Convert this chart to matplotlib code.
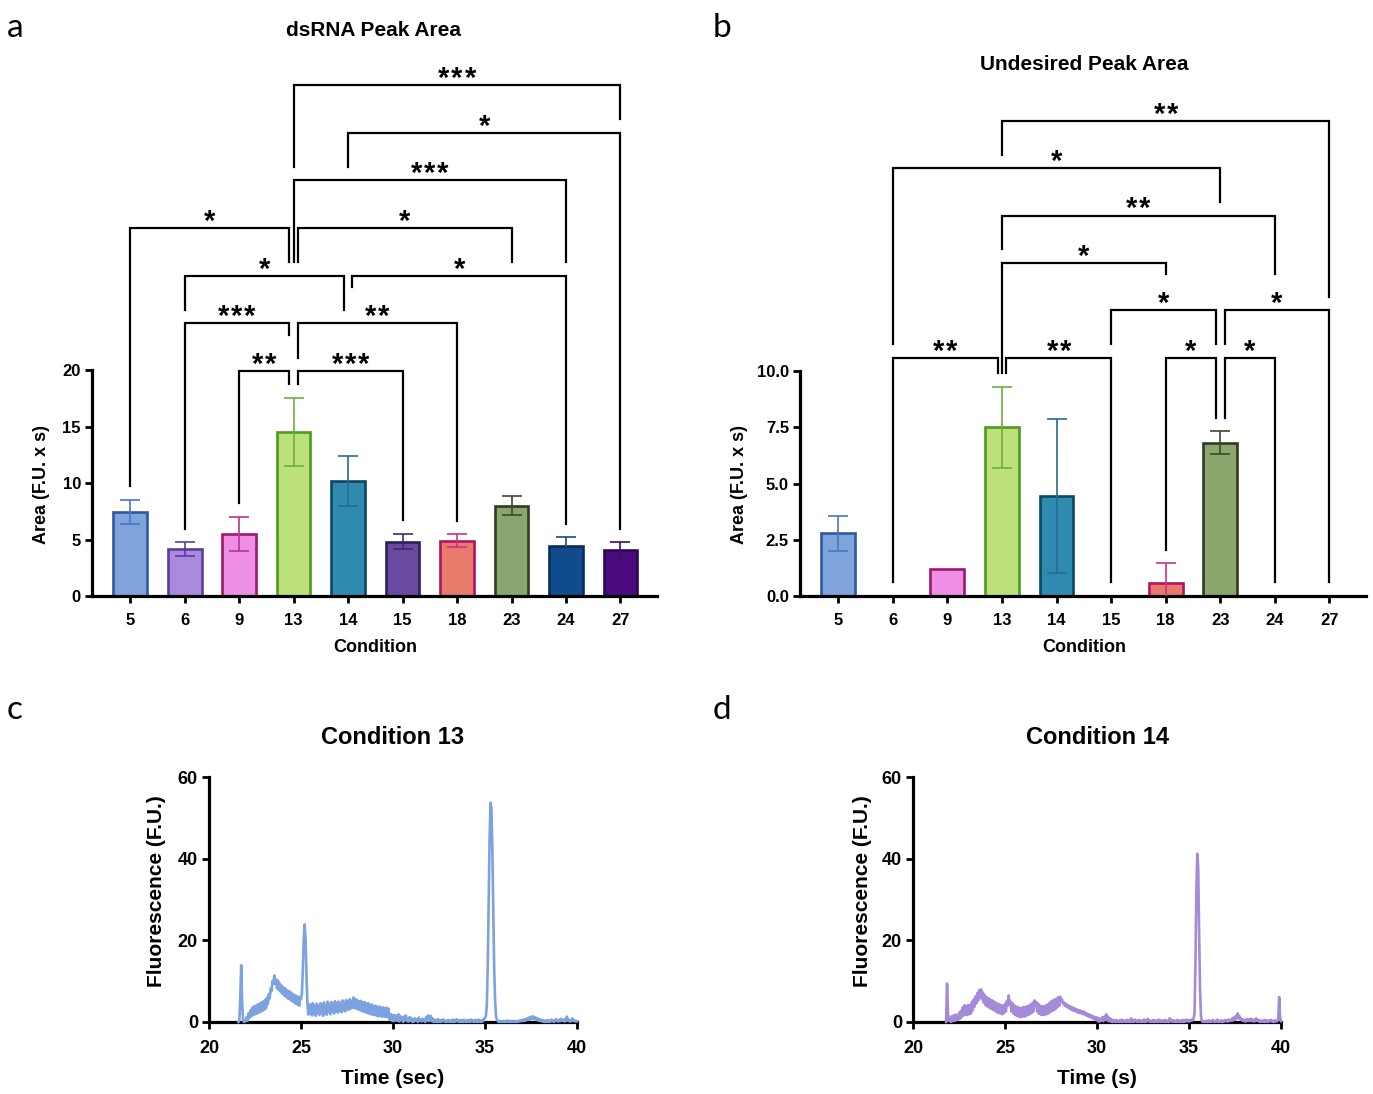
import numpy as np
import matplotlib
matplotlib.use("Agg")
import matplotlib.pyplot as plt

plt.rcParams['font.family'] = ['Liberation Sans', 'DejaVu Sans']
plt.rcParams['font.weight'] = 'bold'

W, H = 1373, 1094

conditions = ['5', '6', '9', '13', '14', '15', '18', '23', '24', '27']
fill_colors = ['#7FA3DB', '#A98ADB', '#EE8FE6', '#BCE07C', '#2E8AAE',
               '#6A4A9E', '#E87A6C', '#8AA66C', '#0F4C8C', '#4B0B7E']
edge_colors = ['#2D5AA0', '#5C3D9C', '#A0166E', '#4E9A22', '#0E4664',
               '#2E1F5E', '#B2155C', '#2F3B24', '#0A2D58', '#2B0A4E']
err_colors = ['#4A76C4', '#5C3D9C', '#B8329A', '#6CB03C', '#2A6A90',
              '#3E2A78', '#D0308A', '#3A4A2C', '#1A4A80', '#3A1070']

# panel a: dsRNA peak area (mean, SD)
ds_mean = [7.45, 4.15, 5.5, 14.55, 10.2, 4.8, 4.9, 8.0, 4.45, 4.05]
ds_sd = [1.05, 0.6, 1.5, 3.0, 2.2, 0.68, 0.55, 0.83, 0.75, 0.7]
# panel b: undesired peak area
und_mean = [2.78, 0, 1.22, 7.5, 4.45, 0, 0.6, 6.82, 0, 0]
und_sd = [0.76, 0, 0, 1.8, 3.42, 0, 0.85, 0.5, 0, 0]

# (from, to, level, stars)
ds_brackets = [
    ('9', '13', 0, '**'), ('13', '15', 0, '***'),
    ('6', '13', 1, '***'), ('13', '18', 1, '**'),
    ('6', '14', 2, '*'), ('14', '24', 2, '*'),
    ('5', '13', 3, '*'), ('13', '23', 3, '*'),
    ('13', '24', 4, '***'),
    ('14', '27', 5, '*'),
    ('13', '27', 6, '***'),
]
und_brackets = [
    ('6', '13', 0, '**'), ('13', '15', 0, '**'), ('18', '23', 0, '*'), ('23', '24', 0, '*'),
    ('15', '23', 1, '*'), ('23', '27', 1, '*'),
    ('13', '18', 2, '*'),
    ('13', '24', 3, '**'),
    ('6', '23', 4, '*'),
    ('13', '27', 5, '**'),
]

# electropherograms, sampled every 0.05 s
c_start = 21.6
c_trace = [
    0, 0.3, 6, 13.9, 5, 0.5, 0, 0.3,
    0.2, 1.2, 0.3, 2.1, 1.0, 2.9, 1.4, 3.5, 1.7, 3.8, 1.9, 4.0, 2.0, 4.3, 2.3, 4.5, 2.5, 4.8, 2.7, 5.0,
    3.0, 5.4, 3.4, 5.9, 4.4, 6.8, 5.8, 8.2, 7.6, 10.0, 9.4, 11.4, 9.3, 10.4, 8.2, 10.1, 7.9, 9.4, 7.3, 8.9,
    6.9, 8.5, 6.4, 8.2, 6.1, 7.7, 5.7, 7.6, 5.5, 7.2, 5.1, 6.9, 4.9, 6.6, 4.5, 6.4, 4.3, 6.2, 4.0, 6.0,
    5.6, 7.0, 13.0, 20.5, 23.9, 20.0, 11.0, 4.5, 1.8, 4.2, 2.0, 4.4, 1.6, 4.6, 2.2, 3.9, 1.5, 4.5, 2.1, 4.0,
    1.7, 4.6, 2.3, 4.3, 1.5, 4.8, 2.0, 3.9, 1.8, 5.0, 2.4, 4.4, 1.9, 4.9, 2.5, 4.5, 2.1, 5.1, 2.6, 4.6,
    2.3, 5.0, 2.8, 4.7, 2.4, 5.3, 2.9, 4.8, 2.6, 5.4, 3.1, 5.0, 3.0, 5.6, 3.3, 5.2, 3.5, 6.0, 3.5, 5.6,
    3.3, 5.4, 3.1, 5.1, 2.9, 5.2, 2.7, 4.8, 2.5, 4.9, 2.4, 4.5, 2.2, 4.6, 2.1, 4.2, 1.9, 4.3, 1.8, 3.9,
    1.7, 4.0, 1.6, 3.7, 1.4, 3.8, 1.5, 3.5, 1.3, 3.6, 1.4, 3.4, 1.2, 3.5, 1.3, 3.3, 0.6, 1.5, 1.9, 0.3,
    1.6, 0.2, 1.7, 0.4, 1.5, 0.3, 1.9, 0.1, 1.4, 0.6, 1.1, 0.0, 1.3, 0.5, 1.6, 0.2, 0.9, 0.1, 1.2, 0.3,
    1.0, 0.0, 0.7, 0.1, 0.9, 0.4, 0.6, 0.0, 1.1, 0.3, 0.5, 0.1, 0.8, 0.3, 0.6, 0.0, 1.2, 0.4, 1.6, 0.2,
    0.8, 1.5, 0.2, 0.9, 0.0, 0.6, 0.1, 0.5, 0.0, 0.7, 0.1, 0.4, 0.0, 0.5, 0.2, 0.6, 0.1, 0.3, 0.0, 0.4,
    0.1, 0.5, 0.0, 0.3, 0.1, 0.6, 0.0, 0.4, 0.1, 0.7, 0.2, 0.3, 0.0, 0.5, 0.1, 0.4, 0.0, 0.6, 0.1, 0.3,
    0.0, 0.5, 0.1, 0.4, 0.0, 0.6, 0.2, 0.3, 0.0, 0.5, 0.1, 0.4, 0.0, 0.6, 0.1, 0.3, 0.0, 0.5, 0.2, 0.8,
    1.0, 1.5, 4.0, 14.0, 30.0, 45.0, 53.7, 52.0, 42.0, 27.0, 13.0, 5.0, 1.5, 0.5, 0.2, 0.0, 0.3, 0.0, 0.2, 0.0,
    0.3, 0.0, 0.2, 0.0, 0.4, 0.1, 0.0, 0.3, 0.0, 0.2, 0.0, 0.3, 0.1, 0.0, 0.2, 0.0, 0.3, 0.1, 0.4, 0.2,
    0.5, 0.2, 0.6, 0.3, 0.7, 0.4, 0.9, 0.5, 1.1, 0.6, 1.3, 0.8, 1.4, 0.7, 1.2, 0.6, 1.0, 0.4, 0.8, 0.3,
    0.6, 0.2, 0.5, 0.1, 0.4, 0.0, 0.3, 0.1, 0.5, 0.0, 0.3, 0.1, 0.6, 0.2, 0.4, 0.0, 0.3, 0.7, 0.2, 0.5,
    0.1, 0.6, 0.2, 0.8, 0.3, 0.5, 0.1, 0.7, 0.2, 1.3, 0.4, 0.6, 0.1, 0.5, 0.2, 0.9, 0.3, 0.4, 0.1, 0.3,
    0.2,
]
d_start = 21.8
d_trace = [
    0, 9.4, 2.0, 0.3,
    0.8, 0.0, 1.4, 0.2, 1.6, 0.3, 1.8, 0.4, 1.5, 0.6, 2.2, 0.8, 2.7, 1.2, 3.6, 1.6, 4.1, 1.8, 3.9, 1.7,
    4.2, 1.9, 4.0, 2.1, 4.9, 2.9, 5.5, 3.8, 6.3, 4.6, 7.1, 5.3, 7.8, 6.0, 8.0, 5.6, 7.2, 4.7, 6.6, 4.1,
    6.1, 3.8, 5.8, 3.5, 5.5, 3.2, 5.3, 3.0, 5.0, 2.7, 4.7, 2.4, 4.5, 2.2, 4.3, 2.1, 4.1, 1.9, 4.0, 2.2,
    4.4, 2.6, 5.1, 4.0, 6.5, 4.6, 5.0, 2.6, 4.6, 2.1, 4.1, 1.7, 3.8, 1.5, 3.6, 1.3, 3.5, 1.2, 3.4, 1.4,
    3.7, 1.3, 3.6, 1.5, 3.9, 1.7, 4.0, 1.9, 4.3, 2.2, 4.7, 2.6, 5.3, 4.6, 4.9, 2.6, 4.5, 2.0, 4.0, 1.8,
    3.9, 1.7, 3.8, 1.8, 4.0, 1.9, 4.2, 2.1, 4.6, 2.4, 5.0, 2.7, 5.3, 2.9, 5.5, 3.2, 5.7, 3.6, 6.1, 4.0,
    6.2, 5.2, 5.5, 4.5, 4.8, 4.0, 4.5, 3.7, 4.2, 3.4, 3.9, 3.2, 3.7, 2.9, 3.5, 2.7, 3.3, 2.6, 3.1, 2.3,
    2.9, 2.2, 2.8, 2.1, 2.6, 1.9, 2.5, 1.8, 2.2, 1.5, 2.0, 1.3, 1.8, 1.2, 1.6, 0.9, 1.4, 0.7, 1.2, 0.5,
    1.1, 0.2, 0.9, 0.1, 0.8, 0.3, 1.2, 0.2, 1.3, 0.5, 1.9, 0.4, 1.3, 0.2, 0.9, 0.1, 0.6, 0.0, 0.5, 0.2,
    0.0, 0.5, 0.1, 0.3, 0.0, 0.4, 0.1, 0.6, 0.0, 0.3, 0.1, 0.4, 0.0, 0.5, 0.1, 0.3, 0.0, 0.9, 0.1, 0.4,
    0.0, 0.6, 0.2, 0.3, 0.0, 0.5, 0.1, 0.4, 0.0, 0.3, 0.1, 0.6, 0.0, 0.4, 0.1, 0.8, 0.2, 0.4, 0.0, 0.3,
    0.1, 0.5, 0.0, 0.4, 0.1, 0.3, 0.0, 0.6, 0.1, 0.4, 0.0, 0.3, 0.1, 0.5, 0.0, 0.4, 0.1, 0.3, 0.0, 0.9,
    0.2, 0.5, 0.0, 0.4, 0.1, 0.3, 0.0, 0.5, 0.1, 0.4, 0.0, 0.3, 0.1, 0.5, 0.0, 0.4, 0.1, 0.6, 0.2, 0.4,
    0.1, 0.5, 0.3, 0.6, 0.4, 0.8, 2.0, 14.0, 32.0, 41.2, 38.0, 22.0, 8.0, 1.5, 0.3, 0.0, 0.2, 0.0, 0.3, 0.1,
    0.0, 0.4, 0.1, 0.3, 0.0, 0.2, 0.5, 0.1, 0.0, 0.3, 0.1, 0.6, 0.0, 0.2, 0.1, 0.4, 0.0, 0.3, 0.1, 0.5,
    0.2, 0.4, 0.1, 0.6, 0.2, 0.5, 0.3, 0.9, 0.4, 1.2, 0.6, 1.5, 0.8, 2.1, 1.0, 1.4, 0.5, 0.8, 0.3, 0.6,
    0.2, 0.5, 0.1, 0.7, 0.3, 0.6, 0.2, 0.8, 0.3, 0.6, 0.1, 0.5, 0.2, 0.9, 0.3, 0.5, 0.1, 0.4, 0.0, 0.3,
    0.1, 0.4, 0.0, 0.5, 0.1, 0.3, 0.0, 0.4, 0.2, 0.5, 0.1, 0.3, 0.0, 0.4, 0.1, 0.3, 0.2, 0.6, 6.1, 1.0,
    0.2,
]


def px(x, y):
    return x / W, 1 - y / H


def style_axes(ax, tick_size, xpad):
    for s in ['top', 'right']:
        ax.spines[s].set_visible(False)
    for s in ['left', 'bottom']:
        ax.spines[s].set_linewidth(2.3)
    ax.tick_params(direction='out', length=5, width=2.0, labelsize=tick_size, pad=3)
    ax.tick_params(axis='x', pad=xpad)


def bar_panel(ax, means, sds, brackets, base, step, yspine, yticks, yticklabels, ylim_top):
    x = np.arange(len(conditions))
    ax.bar(x, means, width=0.62, color=fill_colors, edgecolor=edge_colors,
           linewidth=1.9, zorder=2)
    for i in range(len(x)):
        if sds[i] > 0:
            ax.errorbar(x[i], means[i], yerr=sds[i], fmt='none', ecolor=err_colors[i],
                        elinewidth=1.2, capsize=7.5, capthick=1.2, zorder=3)
    ax.set_xlim(-0.7, 9.67)
    ax.set_ylim(0, ylim_top)
    ax.set_xticks(x)
    ax.set_xticklabels(conditions)
    ax.set_yticks(yticks)
    ax.set_yticklabels(yticklabels)
    style_axes(ax, 12, 7)
    ax.spines['left'].set_bounds(0, yspine)

    # significance brackets; legs stop above whatever lies below them
    off = 0.08
    idx = {c: i for i, c in enumerate(conditions)}
    items = []
    for a_, b_, lev, lab in brackets:
        xl, xr = float(idx[a_]), float(idx[b_])
        for a2, b2, lev2, _ in brackets:
            if lev2 == lev and b2 == a_:
                xl += off
            if lev2 == lev and a2 == b_:
                xr -= off
        items.append((xl, xr, base + step * lev, lev, lab))
    gap = 0.285 * step
    tops = np.array(means) + np.array(sds)

    def leg_bottom(xp, lev):
        bottoms = [tops[int(round(xp))] + gap]
        for xl2, xr2, y2, lev2, lab2 in items:
            if lev2 >= lev:
                continue
            if xl2 - 1e-6 <= xp <= xr2 + 1e-6:
                bottoms.append(y2 + gap)
            half = 0.1 * len(lab2) + 0.32
            if abs(xp - (xl2 + xr2) / 2) <= half:
                bottoms.append(y2 + 0.48 * step + gap)
        return max(bottoms)

    pitch = 0.24
    for xl, xr, y, lev, lab in items:
        bl = leg_bottom(xl, lev)
        br = leg_bottom(xr, lev)
        ax.plot([xl, xl, xr, xr], [bl, y, y, br], color='black', lw=1.6,
                solid_joinstyle='miter', clip_on=False, zorder=4)
        xc = (xl + xr) / 2
        n = len(lab)
        for k in range(n):
            ax.text(xc + (k - (n - 1) / 2) * pitch, y - 0.04 * step, '*', ha='center',
                    va='baseline', fontsize=21, fontweight='bold', clip_on=False)


def trace_panel(ax, start, values, color):
    t = start + 0.05 * np.arange(len(values))
    ax.plot(t, values, color=color, lw=1.9, zorder=3, clip_on=False)
    ax.set_xlim(20, 40)
    ax.set_ylim(0, 60)
    ax.set_xticks([20, 25, 30, 35, 40])
    ax.set_yticks([0, 20, 40, 60])
    style_axes(ax, 13, 8)


fig = plt.figure(figsize=(W / 100, H / 100), dpi=100)

# a
ax_a = fig.add_axes([92 / W, 1 - 596 / H, 565 / W, 531 / H])
bar_panel(ax_a, ds_mean, ds_sd, ds_brackets, 19.9, 4.22, 20,
          [0, 5, 10, 15, 20], ['0', '5', '10', '15', '20'], 47)
# b
ax_b = fig.add_axes([800 / W, 1 - 596 / H, 566 / W, 517.5 / H])
bar_panel(ax_b, und_mean, und_sd, und_brackets, 10.58, 2.11, 10,
          [0, 2.5, 5, 7.5, 10], ['0.0', '2.5', '5.0', '7.5', '10.0'], 23)
# c, d
ax_c = fig.add_axes([209 / W, 1 - 1022 / H, 368 / W, 245 / H])
trace_panel(ax_c, c_start, c_trace, '#7CA2E0')
ax_d = fig.add_axes([913 / W, 1 - 1022 / H, 368 / W, 245 / H])
trace_panel(ax_d, d_start, d_trace, '#A58AD8')

# titles and axis labels
fig.text(*px(374, 31), 'dsRNA Peak Area', ha='center', va='center', fontsize=15)
fig.text(*px(1084, 65), 'Undesired Peak Area', ha='center', va='center', fontsize=15)
fig.text(*px(393, 737), 'Condition 13', ha='center', va='center', fontsize=17)
fig.text(*px(1097, 737), 'Condition 14', ha='center', va='center', fontsize=17)

fig.text(*px(375, 647), 'Condition', ha='center', va='center', fontsize=13)
fig.text(*px(1084, 647), 'Condition', ha='center', va='center', fontsize=13)
fig.text(*px(42, 485), 'Area (F.U. x s)', ha='center', va='center', rotation=90, fontsize=13)
fig.text(*px(740, 485), 'Area (F.U. x s)', ha='center', va='center', rotation=90, fontsize=13)

fig.text(*px(393, 1079), 'Time (sec)', ha='center', va='center', fontsize=15)
fig.text(*px(1097, 1079), 'Time (s)', ha='center', va='center', fontsize=15)
fig.text(*px(157, 891), 'Fluorescence (F.U.)', ha='center', va='center', rotation=90, fontsize=15)
fig.text(*px(862, 891), 'Fluorescence (F.U.)', ha='center', va='center', rotation=90, fontsize=15)

for lab, (lx, ly) in zip('abcd', [(15, 28), (722, 28), (15, 710), (722, 710)]):
    fig.text(*px(lx, ly), lab, ha='center', va='center', fontsize=24,
             fontweight='normal', family=['Lato', 'DejaVu Sans'])

fig.savefig('out.png', dpi=100)
